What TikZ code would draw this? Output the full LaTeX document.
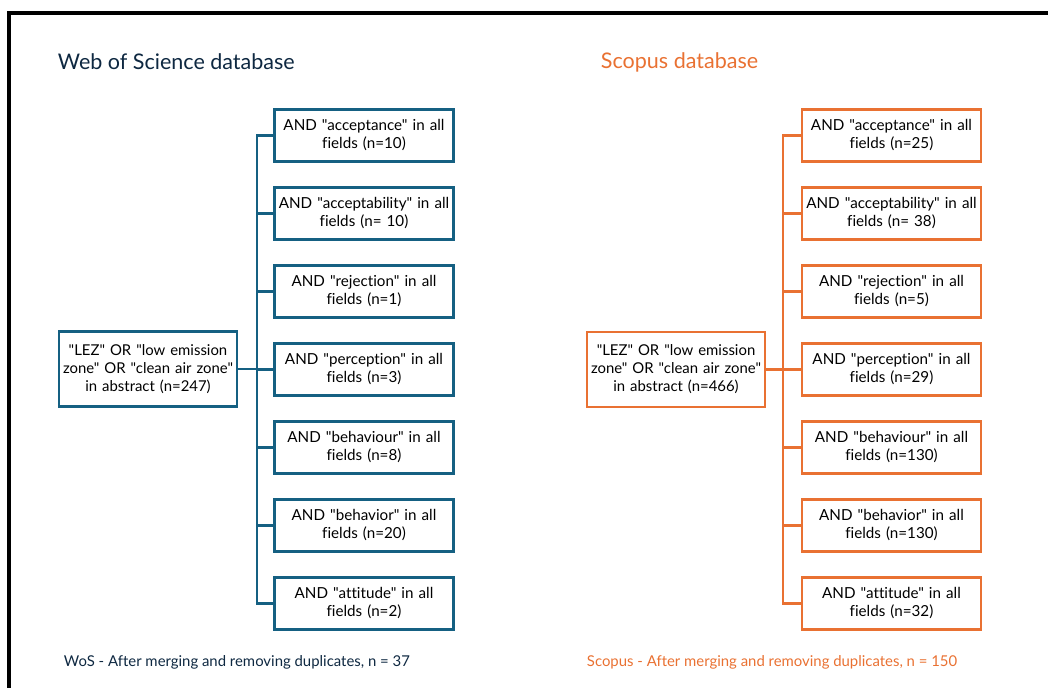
\documentclass[tikz,border=0pt]{standalone}
\usepackage{fontspec}
\newfontfamily\lato{Lato}[Ligatures=NoCommon]
\newcommand{\qt}{\symbol{34}}
\definecolor{wosblue}{HTML}{156082}
\definecolor{wosdark}{HTML}{0E2841}
\definecolor{scorange}{HTML}{E97132}
\tikzset{
  querybox/.style={line width=2pt, fill=white, align=center, inner xsep=0pt,
    text width=4.3cm, minimum width=4.475cm, minimum height=1.3cm,
    font=\lato\fontsize{10.8}{12.8}\selectfont},
  rootbox/.style={querybox, text width=4.45cm, minimum width=4.45cm, minimum height=1.875cm,
    font=\lato\fontsize{10.6}{12.8}\selectfont},
  branch/.style={line width=2pt, line cap=rect},
  dbtitle/.style={anchor=west, font=\lato\fontsize{15.3}{18}\selectfont},
  dbnote/.style={anchor=west, font=\lato\fontsize{10.6}{12}\selectfont}
}
\begin{document}
\begin{tikzpicture}[x=0.025cm, y=-0.025cm]
        \useasboundingbox (0,0) rectangle (1048,688);
        % outer frame (only top and left edges show)
        \draw[line width=2.2pt] (9,688) -- (9,13) -- (1048,13);

        % Web of Science side
        \node[dbtitle, text=wosdark] (wostitle) at (53,62) {Web of Science database};
        \node[rootbox, draw=wosblue] (wosroot) at (148,369) {\qt LEZ\qt{} OR \qt low emission\\zone\qt{} OR \qt clean air zone\qt\\in abstract (n=247)};
        \coordinate (wostrunk) at (257,369);
        \foreach \i/\txt in {1/{AND \qt acceptance\qt{} in all\\fields (n=10)},
                             2/{AND \qt acceptability\qt{} in all\\fields (n= 10)},
                             3/{AND \qt rejection\qt{} in all\\fields (n=1)},
                             4/{AND \qt perception\qt{} in all\\fields (n=3)},
                             5/{AND \qt behaviour\qt{} in all\\fields (n=8)},
                             6/{AND \qt behavior\qt{} in all\\fields (n=20)},
                             7/{AND \qt attitude\qt{} in all\\fields (n=2)}}{
          \node[querybox, draw=wosblue] (wos\i) at (364,{135.5+78*(\i-1)}) {\txt};
          \draw[branch, wosblue] (wostrunk |- wos\i.west) -- (wos\i.west);
        }
        \draw[branch, wosblue] (wostrunk |- wos1.west) -- (wostrunk |- wos7.west);
        \draw[branch, wosblue] (wosroot.east) -- (wostrunk);
        \node[dbnote, text=wosdark] (wosnote) at (59,662) {WoS - After merging and removing duplicates, n = 37};

        % Scopus side
        \node[dbtitle, text=scorange] (sctitle) at (596,62) {Scopus database};
        \node[rootbox, draw=scorange] (scroot) at (676,369.5) {\qt LEZ\qt{} OR \qt low emission\\zone\qt{} OR \qt clean air zone\qt\\in abstract (n=466)};
        \coordinate (sctrunk) at (783,369.5);
        \foreach \i/\txt in {1/{AND \qt acceptance\qt{} in all\\fields (n=25)},
                             2/{AND \qt acceptability\qt{} in all\\fields (n= 38)},
                             3/{AND \qt rejection\qt{} in all\\fields (n=5)},
                             4/{AND \qt perception\qt{} in all\\fields (n=29)},
                             5/{AND \qt behaviour\qt{} in all\\fields (n=130)},
                             6/{AND \qt behavior\qt{} in all\\fields (n=130)},
                             7/{AND \qt attitude\qt{} in all\\fields (n=32)}}{
          \node[querybox, draw=scorange] (sc\i) at (891.5,{135.5+78*(\i-1)}) {\txt};
          \draw[branch, scorange] (sctrunk |- sc\i.west) -- (sc\i.west);
        }
        \draw[branch, scorange] (sctrunk |- sc1.west) -- (sctrunk |- sc7.west);
        \draw[branch, scorange] (scroot.east) -- (sctrunk);
        \node[dbnote, text=scorange] (scnote) at (582,662) {Scopus - After merging and removing duplicates, n = 150};
    \end{tikzpicture}
\end{document}
